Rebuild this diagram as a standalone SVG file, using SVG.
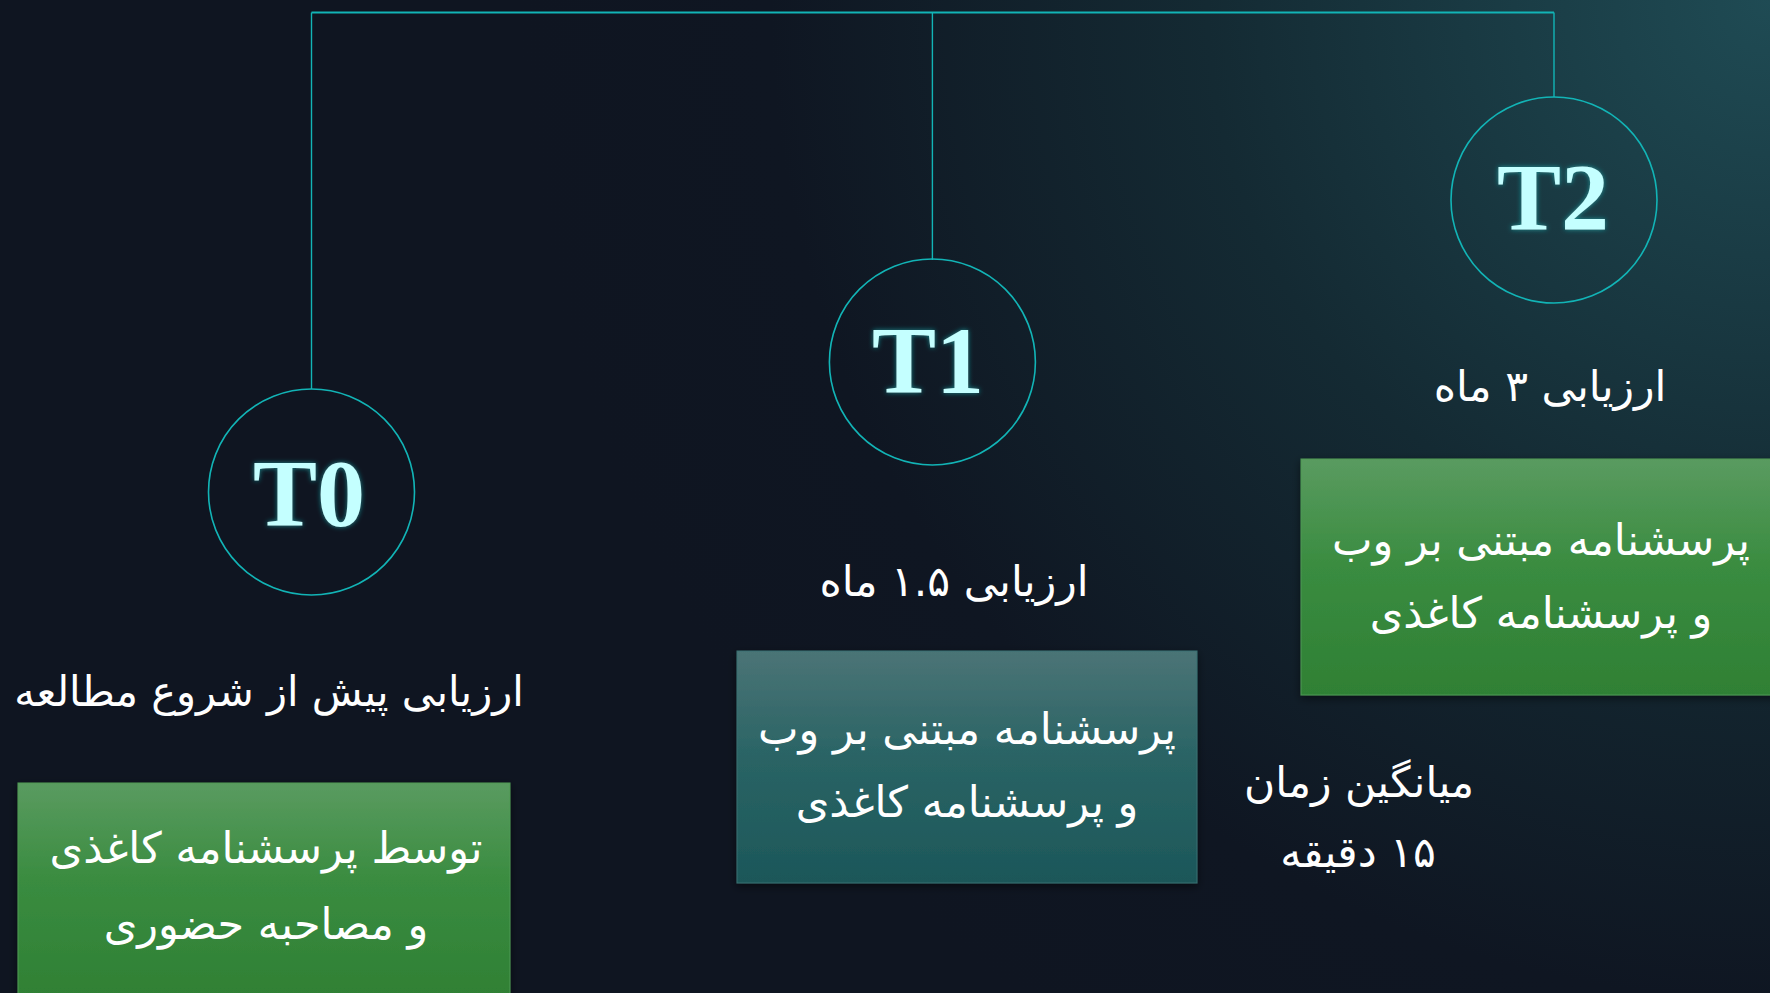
<svg xmlns="http://www.w3.org/2000/svg" width="1770" height="993" viewBox="0 0 1770 993">
<defs>
<radialGradient id="bg" cx="1770" cy="0" r="1250" gradientUnits="userSpaceOnUse">
<stop offset="0" stop-color="#1f4b54"/>
<stop offset="0.45" stop-color="#142a33"/>
<stop offset="0.8" stop-color="#0f1622"/>
<stop offset="1" stop-color="#0f1521"/>
</radialGradient>
<linearGradient id="green" x1="0" y1="0" x2="0" y2="1">
<stop offset="0" stop-color="#5a9b60"/>
<stop offset="0.45" stop-color="#3a8c40"/>
<stop offset="1" stop-color="#2f8034"/>
</linearGradient>
<linearGradient id="teal" x1="0" y1="0" x2="0" y2="1">
<stop offset="0" stop-color="#4b7476"/>
<stop offset="0.45" stop-color="#2a6465"/>
<stop offset="1" stop-color="#1c5759"/>
</linearGradient>
<filter id="glow" x="-20%" y="-20%" width="140%" height="140%">
<feGaussianBlur in="SourceAlpha" stdDeviation="2.5" result="b"/>
<feFlood flood-color="#20d0d0" flood-opacity="0.6"/>
<feComposite in2="b" operator="in" result="g"/>
<feMerge><feMergeNode in="g"/><feMergeNode in="SourceGraphic"/></feMerge>
</filter>
<filter id="shadow" x="-10%" y="-10%" width="120%" height="130%">
<feDropShadow dx="0" dy="3" stdDeviation="4" flood-color="#000" flood-opacity="0.5"/>
</filter>
</defs>
<style>
.circ{fill:none;stroke:#12b4b6;stroke-width:1.6}
.tlab{font-family:"Liberation Serif",serif;font-weight:bold;font-size:96px;fill:#c4ffff;text-anchor:middle}
.fa{font-family:"DejaVu Sans",sans-serif;fill:#ffffff;text-anchor:middle;direction:rtl}
.lab{font-size:42.5px}
.box{font-size:43px}
.conn{fill:none;stroke:#12b4b6}
</style>
<rect width="1770" height="993" fill="url(#bg)"/>
<g id="connectors">
<path class="conn" stroke-width="2" d="M311.5 12.4 H1554"/>
<path class="conn" stroke-width="1.4" d="M311.5 12.4 V389 M932.4 12.4 V260 M1554 12.4 V97"/>
</g>
<g id="T0">
<circle class="circ" cx="311.5" cy="492" r="103"/>
<text class="tlab" x="309" y="526" filter="url(#glow)">T0</text>
<text class="fa lab" x="269" y="706" style="font-size:41.5px">ارزیابی پیش از شروع مطالعه</text>
</g>
<g id="T0-box">
<rect x="18" y="783" width="492" height="215" fill="url(#green)" stroke="#4f9a55" stroke-width="1" filter="url(#shadow)"/>
<text class="fa box" x="266" y="863">توسط پرسشنامه کاغذی</text>
<text class="fa box" x="266" y="939">و مصاحبه حضوری</text>
</g>
<g id="T1">
<circle class="circ" cx="932.4" cy="362" r="103"/>
<text class="tlab" x="928" y="393" filter="url(#glow)">T1</text>
<text class="fa lab" x="954" y="596">ارزیابی ۱.۵ ماه</text>
</g>
<g id="T1-box">
<rect x="737" y="651" width="460" height="232" fill="url(#teal)" stroke="#3b7072" stroke-width="1" filter="url(#shadow)"/>
<text class="fa box" x="967" y="744">پرسشنامه مبتنی بر وب</text>
<text class="fa box" x="967" y="817">و پرسشنامه کاغذی</text>
</g>
<g id="T2">
<circle class="circ" cx="1554" cy="200" r="103"/>
<text class="tlab" x="1553" y="230" filter="url(#glow)">T2</text>
<text class="fa lab" x="1550" y="401">ارزیابی ۳ ماه</text>
</g>
<g id="T2-box">
<rect x="1301" y="459" width="480" height="236" fill="url(#green)" stroke="#4f9a55" stroke-width="1" filter="url(#shadow)"/>
<text class="fa box" x="1541" y="555">پرسشنامه مبتنی بر وب</text>
<text class="fa box" x="1541" y="628">و پرسشنامه کاغذی</text>
</g>
<g id="duration">
<text class="fa lab" x="1359" y="797">میانگین زمان</text>
<text class="fa lab" x="1358" y="867">۱۵ دقیقه</text>
</g>
</svg>
